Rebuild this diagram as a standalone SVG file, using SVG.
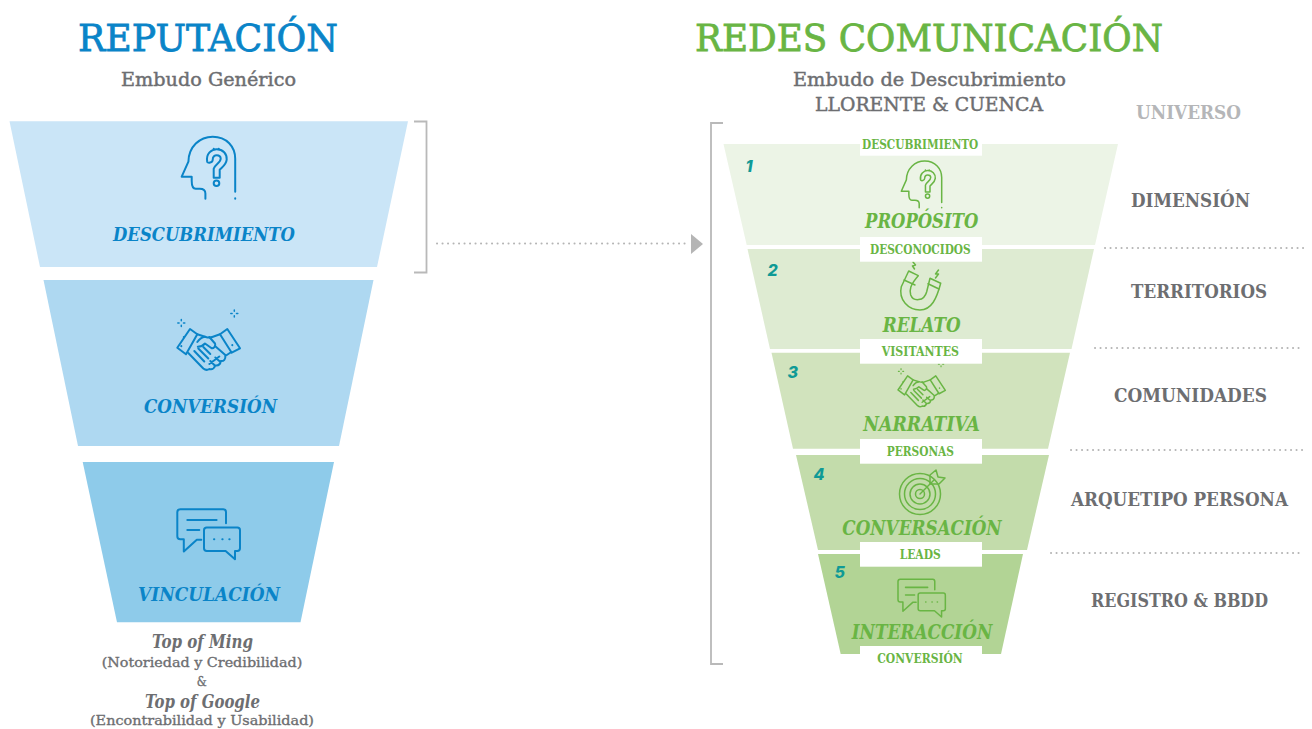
<svg xmlns="http://www.w3.org/2000/svg" width="1312" height="729" viewBox="0 0 1312 729">
<style>
text{font-family:"DejaVu Serif","Liberation Serif",serif;text-anchor:start}
.ic{fill:none;stroke:currentColor;stroke-width:2;stroke-linecap:round;stroke-linejoin:round}
.blue{color:#0a84c8}.green{color:#69b544}
.h1{font-size:37px;font-weight:400;stroke-width:.8}
.sub{font-size:19px;font-weight:400;fill:#6d6e71;stroke:#6d6e71;stroke-width:.45}
.bi{font-size:19px;font-weight:700;font-style:italic;fill:#0a84c8}
.gi{font-size:20px;font-weight:700;font-style:italic;fill:#69b544}
.sm{font-size:12px;font-weight:700;fill:#69b544}
.rt{font-size:18px;font-weight:700;fill:#6d6e71}
.cap{font-size:13.5px;font-weight:400;fill:#6d6e71;stroke:#6d6e71;stroke-width:.35}
.capi{font-size:18px;font-weight:700;font-style:italic;fill:#6d6e71}
.num{font-family:"Inter","Liberation Sans",sans-serif;font-size:16px;font-weight:800;font-style:italic;fill:#0f9a96}
.dot{fill:none;stroke:#b5b5b5;stroke-width:2;stroke-dasharray:.1 5.4;stroke-linecap:round}
.br{fill:none;stroke:#b9b9b9;stroke-width:1.8}
.box{fill:#fff}
</style>
<defs>
<g id="i-head" class="ic">
<path d="M23.700,62V56.700C23.700,53 21,52 18,52H14C10.500,52 10,48 10,44V40H0L6.700,25C7,10 18,0 31,0C45,0 53.500,10 53.500,22V55"/>
<path d="M53.500,61.500V62"/>
<path d="M25.500,25C24,17 30,12.500 35,12.500C41,12.500 45.500,17 45,23C44.500,28 41,30 38,33V41H32V32C33,28 39,26 39,22C39,19 37,18.500 35,18.500C33,18.500 31,20 31,23C31,26 26,27 25.500,25Z"/>
<circle cx="34.800" cy="46.500" r="2.800"/>
<path d="M32,12V12.300M37,12V12.300"/>
</g>
<g id="spark" class="ic" style="stroke-width:1.500"><path d="M0,-3.500V-2.200M0,3.500V2.200M-3.500,0H-2.200M3.500,0H2.200"/></g>
<g id="i-hands" class="ic">
<use href="#spark" x="4" y="13"/><use href="#spark" x="57" y="3.500"/>
<path d="M12.700,19L20,24.300L8.700,44.300L0,37.700Z"/>
<path d="M50,19L62.700,38.300L54.400,42.700L42.700,24.300Z"/>
<path d="M20,24.300L27.700,26.700C30,27.500 33,28 35,27L42.700,24.300"/>
<path d="M32,27L37.700,33.500C39,36 36,39 34,38L27.700,33.500C26,35.500 23.500,36.700 20.500,36.700"/>
<path d="M27.700,26.700C25,27 22,29 20,32"/>
<path d="M37.700,36L48,45"/>
<path d="M11,43L26,58.500C28.500,60.500 30.500,60 32,59C35,60 37,58 38,55.500C41,56 43,54 43.500,51C46.500,51.500 48.500,49 48,46L54,42"/>
<path d="M17,41L27,51.500M21,38.500L31,48.500M26,37L33,44"/>
<path d="M32,54L42,46.500M37,55L33,51M42,51L38,47.500"/>
<path d="M6.500,27V27.300M4,36V36.300M55,35V35.300"/>
</g>
<g id="i-chat" class="ic">
<path d="M48.700,14V3C48.700,1 47.500,0 46,0H3C1,0 0,1 0,3V27C0,29 1,30 3,30H6.500V42.300L19.500,30.500H24"/>
<path d="M10,10.700H39.300M10,20.700H22"/>
<path d="M29.500,18.300H60C61.500,18.300 62.700,19.500 62.700,21V39C62.700,40.500 61.500,41.700 60,41.700H57.700V50L48.300,41.700H29.500C28,41.700 26.700,40.500 26.700,39V21C26.700,19.500 28,18.300 29.500,18.300Z"/>
<path d="M36.700,30H37M45,30H45.300M52,30H52.300"/>
</g>
</defs>

<g id="connectors">
<path class="br" d="M414,121.500H426.500V272.500H414"/>
<path class="br" d="M723,123H711V664H723"/>
<path class="dot" d="M437,243.500H688"/>
<path d="M691,234L703,244L691,254Z" fill="#b5b5b5"/>
<path class="dot" d="M1105,248H1304M1095,348H1304M1071,450H1304M1051,553H1304"/>
</g>

<g id="title-left">
<text class="h1" x="78" y="51" fill="#0a84c8" stroke="#0a84c8" textLength="260" lengthAdjust="spacingAndGlyphs">REPUTACIÓN</text>
<text class="sub" x="121" y="85.500" textLength="175" lengthAdjust="spacingAndGlyphs">Embudo Genérico</text>
</g>
<g id="title-right">
<text class="h1" x="695" y="51" fill="#69b544" stroke="#69b544" textLength="468" lengthAdjust="spacingAndGlyphs">REDES COMUNICACIÓN</text>
<text class="sub" x="793" y="85.500" textLength="273" lengthAdjust="spacingAndGlyphs">Embudo de Descubrimiento</text>
<text class="sub" x="815" y="110.500" textLength="228" lengthAdjust="spacingAndGlyphs">LLORENTE &amp; CUENCA</text>
</g>

<g id="node-descubrimiento">
<path d="M9.500,121.300H408L377,267H40Z" fill="#cae5f7"/>
<use href="#i-head" class="blue" transform="translate(181.700,136.700)"/>
<text class="bi" x="113" y="241" textLength="182" lengthAdjust="spacingAndGlyphs">DESCUBRIMIENTO</text>
</g>
<g id="node-conversion">
<path d="M43.500,280H373.500L339,446H78Z" fill="#aed8f1"/>
<use href="#i-hands" class="blue" transform="translate(177.300,310)"/>
<text class="bi" x="144" y="413" textLength="133" lengthAdjust="spacingAndGlyphs">CONVERSIÓN</text>
</g>
<g id="node-vinculacion">
<path d="M82.700,462H334L300.500,622.300H117Z" fill="#8ecbea"/>
<use href="#i-chat" class="blue" transform="translate(177.300,509.300)"/>
<text class="bi" x="138" y="600.700" textLength="142" lengthAdjust="spacingAndGlyphs">VINCULACIÓN</text>
</g>
<g id="caption">
<text class="capi" x="152" y="648" textLength="101" lengthAdjust="spacingAndGlyphs">Top of Ming</text>
<text class="cap" x="101.700" y="666.700" textLength="200.600" lengthAdjust="spacingAndGlyphs">(Notoriedad y Credibilidad)</text>
<text class="cap" x="196.700" y="685.700" textLength="10" lengthAdjust="spacingAndGlyphs">&amp;</text>
<text class="capi" x="145" y="708" textLength="115" lengthAdjust="spacingAndGlyphs">Top of Google</text>
<text class="cap" x="90" y="725" textLength="224" lengthAdjust="spacingAndGlyphs">(Encontrabilidad y Usabilidad)</text>
</g>

<g id="node-proposito">
<path d="M723.500,144H1118L1095,245H746.700Z" fill="#ecf4e6"/>
<use href="#i-head" class="green" transform="translate(901.300,161) scale(.755)"/>
<rect class="box" x="860" y="135" width="122" height="20.700"/>
<text class="sm" x="862" y="149" textLength="116.300" lengthAdjust="spacingAndGlyphs">DESCUBRIMIENTO</text>
<text class="gi" x="865" y="227.700" textLength="113.300" lengthAdjust="spacingAndGlyphs">PROPÓSITO</text>
<text class="num" x="745.500" y="171.700">1</text>
</g>
<g id="node-relato">
<path d="M747.500,249H1094L1071.500,349H770Z" fill="#deebd2"/>
<g class="ic green" style="stroke-width:1.500">
<path d="M908.700,271L901.300,286.700C898.300,300 908.300,310 920,310C931.700,310 936.700,298.300 940.700,283.300L930,278.300L926.700,291.700C924,301.700 913.300,301.700 910.700,295C909.300,290 910,285 918.300,275.700Z"/>
<path d="M904,280L915,285M928,283.700L939,289"/>
<path d="M913,262L915.500,265L912.500,266L914.500,269M938.500,270L935.500,274H938.500L935.500,278"/>
</g>
<rect class="box" x="860" y="237" width="122" height="24.700"/>
<text class="sm" x="870" y="254" textLength="100.700" lengthAdjust="spacingAndGlyphs">DESCONOCIDOS</text>
<text class="gi" x="882.700" y="332.300" textLength="78" lengthAdjust="spacingAndGlyphs">RELATO</text>
<text class="num" x="767.500" y="276">2</text>
</g>
<g id="node-narrativa">
<path d="M771.500,352.700H1070L1048,448.700H793Z" fill="#d1e3bd"/>
<use href="#i-hands" class="green" transform="translate(898,361.500) scale(.755)"/>
<rect class="box" x="860" y="339" width="122" height="24.700"/>
<text class="sm" x="881.700" y="355.700" textLength="77.300" lengthAdjust="spacingAndGlyphs">VISITANTES</text>
<text class="gi" x="863.300" y="430.700" textLength="116.700" lengthAdjust="spacingAndGlyphs">NARRATIVA</text>
<text class="num" x="787.500" y="377.700">3</text>
</g>
<g id="node-conversacion">
<path d="M796,455H1049L1027,550H818Z" fill="#c3dcab"/>
<g class="ic green" style="stroke-width:1.500">
<circle cx="920" cy="494" r="20.500"/><circle cx="920" cy="494" r="15.500"/>
<circle cx="920" cy="494" r="10"/><circle cx="920" cy="494" r="4.500"/>
<path d="M920,494L934,480"/>
<path d="M930,484V475L936,470L938,477L945,478L939,484Z"/>
</g>
<rect class="box" x="860" y="439" width="122" height="24.700"/>
<text class="sm" x="886.700" y="456" textLength="67.300" lengthAdjust="spacingAndGlyphs">PERSONAS</text>
<text class="gi" x="842.300" y="534.700" textLength="159.400" lengthAdjust="spacingAndGlyphs">CONVERSACIÓN</text>
<text class="num" x="813.500" y="480">4</text>
</g>
<g id="node-interaccion">
<path d="M818,554H1023L1001,654H840.700Z" fill="#b2d495"/>
<use href="#i-chat" class="green" transform="translate(898,579.300) scale(.755)"/>
<rect class="box" x="860" y="542" width="122" height="24.700"/>
<text class="sm" x="899.700" y="559" textLength="41" lengthAdjust="spacingAndGlyphs">LEADS</text>
<text class="gi" x="851.700" y="639" textLength="140.600" lengthAdjust="spacingAndGlyphs">INTERACCIÓN</text>
<rect class="box" x="860" y="646" width="122" height="22"/>
<text class="sm" x="877.300" y="662.700" textLength="85.400" lengthAdjust="spacingAndGlyphs">CONVERSIÓN</text>
<text class="num" x="834.500" y="578">5</text>
</g>

<g id="labels-right">
<text class="rt" x="1136" y="119" style="fill:#b5b6b8" textLength="105" lengthAdjust="spacingAndGlyphs">UNIVERSO</text>
<text class="rt" x="1131" y="207" textLength="119" lengthAdjust="spacingAndGlyphs">DIMENSIÓN</text>
<text class="rt" x="1131" y="298" textLength="136" lengthAdjust="spacingAndGlyphs">TERRITORIOS</text>
<text class="rt" x="1114" y="402" textLength="153" lengthAdjust="spacingAndGlyphs">COMUNIDADES</text>
<text class="rt" x="1071" y="506" textLength="217" lengthAdjust="spacingAndGlyphs">ARQUETIPO PERSONA</text>
<text class="rt" x="1091" y="607" textLength="177" lengthAdjust="spacingAndGlyphs">REGISTRO &amp; BBDD</text>
</g>
</svg>
